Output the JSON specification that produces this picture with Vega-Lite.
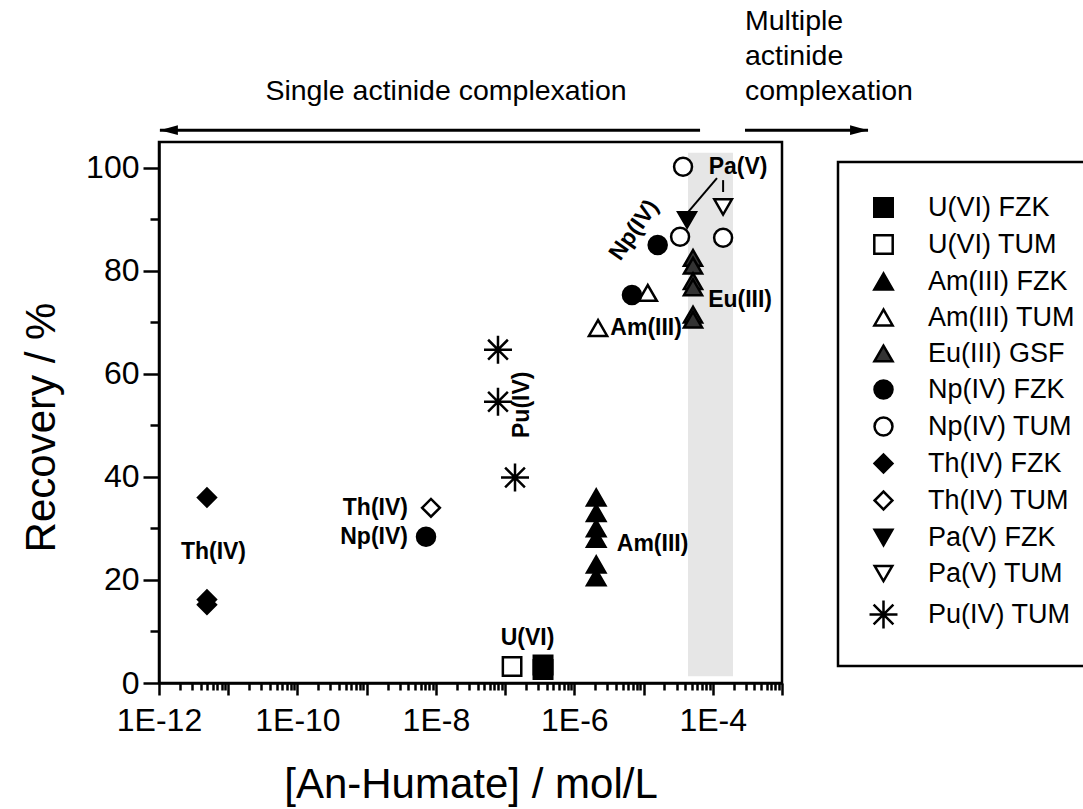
{
  "$schema": "https://vega.github.io/schema/vega-lite/v6.json",
  "width": 623,
  "height": 541,
  "autosize": {"type": "none"},
  "padding": {"left": 159, "top": 142, "right": 301, "bottom": 126},
  "background": "white",
  "config": {
    "font": "Liberation Sans",
    "view": {"stroke": "black", "strokeWidth": 2.5},
    "axis": {
      "domainColor": "black", "domainWidth": 2.5,
      "tickColor": "black", "tickWidth": 2.5,
      "labelColor": "black", "labelFont": "Liberation Sans", "labelFontSize": 32,
      "titleFont": "Liberation Sans", "titleFontSize": 42, "titleFontWeight": "normal", "titleColor": "black",
      "grid": false
    },
    "legend": {
      "padding": 32, "strokeColor": "black", "strokeWidth": 2.5,
      "labelFont": "Liberation Sans", "labelFontSize": 27, "labelColor": "black",
      "rowPadding": 8, "labelOffset": 31, "symbolStrokeWidth": 2.5, "symbolOpacity": 1
    }
  },
  "datasets": {
    "points": [
      {"series": "U(VI) FZK", "x": 3.53e-7, "y": 3.5},
      {"series": "U(VI) FZK", "x": 3.53e-7, "y": 2.6},
      {"series": "U(VI) TUM", "x": 1.26e-7, "y": 3.2},
      {"series": "Am(III) FZK", "x": 2.07e-6, "y": 36},
      {"series": "Am(III) FZK", "x": 2.07e-6, "y": 33},
      {"series": "Am(III) FZK", "x": 2.07e-6, "y": 30},
      {"series": "Am(III) FZK", "x": 2.07e-6, "y": 28},
      {"series": "Am(III) FZK", "x": 2.07e-6, "y": 23},
      {"series": "Am(III) FZK", "x": 2.07e-6, "y": 20.5},
      {"series": "Am(III) TUM", "x": 2.2e-6, "y": 68.9},
      {"series": "Am(III) TUM", "x": 1.15e-5, "y": 75.7},
      {"series": "Eu(III) GSF", "x": 5.18e-5, "y": 82.5},
      {"series": "Eu(III) GSF", "x": 5.18e-5, "y": 81},
      {"series": "Eu(III) GSF", "x": 5.18e-5, "y": 78},
      {"series": "Eu(III) GSF", "x": 5.18e-5, "y": 76.8},
      {"series": "Eu(III) GSF", "x": 5.18e-5, "y": 71.5},
      {"series": "Eu(III) GSF", "x": 5.18e-5, "y": 70.5},
      {"series": "Np(IV) FZK", "x": 1.6e-5, "y": 85.0},
      {"series": "Np(IV) FZK", "x": 6.8e-6, "y": 75.3},
      {"series": "Np(IV) FZK", "x": 7.2e-9, "y": 28.4},
      {"series": "Np(IV) TUM", "x": 3.72e-5, "y": 100.2},
      {"series": "Np(IV) TUM", "x": 3.37e-5, "y": 86.6},
      {"series": "Np(IV) TUM", "x": 1.41e-4, "y": 86.4},
      {"series": "Th(IV) FZK", "x": 4.93e-12, "y": 36.0},
      {"series": "Th(IV) FZK", "x": 4.93e-12, "y": 16.2},
      {"series": "Th(IV) FZK", "x": 4.93e-12, "y": 15.2},
      {"series": "Th(IV) TUM", "x": 8.49e-9, "y": 34.0},
      {"series": "Pa(V) FZK", "x": 4.25e-5, "y": 89.9},
      {"series": "Pa(V) TUM", "x": 1.41e-4, "y": 92.4},
      {"series": "Pu(IV) TUM", "x": 7.89e-8, "y": 64.7},
      {"series": "Pu(IV) TUM", "x": 7.89e-8, "y": 54.6},
      {"series": "Pu(IV) TUM", "x": 1.39e-7, "y": 39.9}
    ],
    "band": [{"x": 4.39e-5, "xe": 1.96e-4, "y": 1.3, "ye": 102.9}],
    "leaders": [
      {"x": 1.15e-4, "y": 98.0, "xe": 4.39e-5, "ye": 91.4},
      {"x": 1.41e-4, "y": 97.6, "xe": 1.41e-4, "ye": 95.3}
    ],
    "arrows": [
      {"dir": "left", "x": 1.03e-12, "xe": 6.55e-5, "y": 107.3},
      {"dir": "right", "x": 2.92e-4, "xe": 1.75e-2, "y": 107.3}
    ],
    "labelsCenter": [
      {"text": "Pa(V)", "x": 2.32e-4, "y": 100.2},
      {"text": "Eu(III)", "x": 2.48e-4, "y": 74.4},
      {"text": "Am(III)", "x": 1.09e-5, "y": 68.9},
      {"text": "Am(III)", "x": 1.35e-5, "y": 26.9},
      {"text": "U(VI)", "x": 2.11e-7, "y": 8.8},
      {"text": "Th(IV)", "x": 6.12e-12, "y": 25.5}
    ],
    "labelsRight": [
      {"text": "Th(IV)", "x": 3.95e-9, "y": 34.0},
      {"text": "Np(IV)", "x": 3.95e-9, "y": 28.4}
    ],
    "labelNp": [{"text": "Np(IV)", "x": 7.28e-6, "y": 87.9}],
    "labelPu": [{"text": "Pu(IV)", "x": 1.75e-7, "y": 54.0}],
    "single": [{"text": "Single actinide complexation", "x": 1.40e-8, "y": 114.9}],
    "multiple": [
      {"text": "Multiple", "x": 2.92e-4, "y": 128.5},
      {"text": "actinide", "x": 2.92e-4, "y": 121.7},
      {"text": "complexation", "x": 2.92e-4, "y": 114.9}
    ]
  },
  "layer": [
    {
      "data": {"name": "band"},
      "mark": {"type": "rect", "color": "#e6e6e6"},
      "encoding": {
        "x": {"field": "x", "type": "quantitative", "scale": {"type": "log", "domain": [1e-12, 1e-3], "nice": false}},
        "x2": {"field": "xe"},
        "y": {"field": "y", "type": "quantitative", "scale": {"domain": [0, 105], "nice": false, "zero": false}},
        "y2": {"field": "ye"}
      }
    },
    {
      "data": {"name": "leaders"},
      "mark": {"type": "rule", "color": "black", "strokeWidth": 2},
      "encoding": {
        "x": {"field": "x", "type": "quantitative"},
        "x2": {"field": "xe"},
        "y": {"field": "y", "type": "quantitative"},
        "y2": {"field": "ye"}
      }
    },
    {
      "data": {"name": "arrows"},
      "mark": {"type": "rule", "color": "black", "strokeWidth": 3},
      "encoding": {
        "x": {"field": "x", "type": "quantitative"},
        "x2": {"field": "xe"},
        "y": {"field": "y", "type": "quantitative"}
      }
    },
    {
      "data": {"name": "arrows"},
      "transform": [{"filter": "datum.dir == 'left'"}],
      "mark": {"type": "point", "shape": "M0,0L2,-0.55L2,0.55Z", "size": 324, "filled": true, "color": "black", "opacity": 1, "strokeWidth": 0},
      "encoding": {
        "x": {"field": "x", "type": "quantitative"},
        "y": {"field": "y", "type": "quantitative"}
      }
    },
    {
      "data": {"name": "arrows"},
      "transform": [{"filter": "datum.dir == 'right'"}],
      "mark": {"type": "point", "shape": "M0,0L-2,-0.55L-2,0.55Z", "size": 324, "filled": true, "color": "black", "opacity": 1, "strokeWidth": 0},
      "encoding": {
        "x": {"field": "xe", "type": "quantitative"},
        "y": {"field": "y", "type": "quantitative"}
      }
    },
    {
      "data": {"name": "points"},
      "mark": {"type": "point", "strokeWidth": 2.5, "opacity": 1},
      "encoding": {
        "x": {
          "field": "x", "type": "quantitative",
          "scale": {"type": "log", "domain": [1e-12, 1e-3], "nice": false},
          "axis": {
            "title": "[An-Humate] / mol/L",
            "values": [1e-12,2e-12,3e-12,4e-12,5e-12,6e-12,7e-12,8e-12,9e-12,
                       1e-11,2e-11,3e-11,4e-11,5e-11,6e-11,7e-11,8e-11,9e-11,
                       1e-10,2e-10,3e-10,4e-10,5e-10,6e-10,7e-10,8e-10,9e-10,
                       1e-9,2e-9,3e-9,4e-9,5e-9,6e-9,7e-9,8e-9,9e-9,
                       1e-8,2e-8,3e-8,4e-8,5e-8,6e-8,7e-8,8e-8,9e-8,
                       1e-7,2e-7,3e-7,4e-7,5e-7,6e-7,7e-7,8e-7,9e-7,
                       1e-6,2e-6,3e-6,4e-6,5e-6,6e-6,7e-6,8e-6,9e-6,
                       1e-5,2e-5,3e-5,4e-5,5e-5,6e-5,7e-5,8e-5,9e-5,
                       1e-4,2e-4,3e-4,4e-4,5e-4,6e-4,7e-4,8e-4,9e-4,1e-3],
            "labelExpr": "(abs(log(datum.value)/LN10 - round(log(datum.value)/LN10)) < 0.001 && round(log(datum.value)/LN10) % 2 == 0) ? '1E' + round(log(datum.value)/LN10) : ''",
            "labelOverlap": false,
            "labelFlush": false,
            "tickSize": {"condition": {"test": "abs(log(datum.value)/LN10 - round(log(datum.value)/LN10)) > 0.001", "value": 7}, "value": 12},
            "labelPadding": 10,
            "titleX": 311.5,
            "titleY": 101,
            "titleAlign": "center",
            "titleBaseline": "middle"
          }
        },
        "y": {
          "field": "y", "type": "quantitative",
          "scale": {"domain": [0, 105], "nice": false, "zero": false},
          "axis": {
            "title": "Recovery / %",
            "values": [0, 10, 20, 30, 40, 50, 60, 70, 80, 90, 100],
            "labelExpr": "datum.value % 20 == 0 ? datum.label : ''",
            "tickSize": {"condition": {"test": "datum.value % 20 != 0", "value": 9}, "value": 16},
            "labelPadding": 4,
            "titleX": -118,
            "titleY": 285,
            "titleAlign": "center",
            "titleBaseline": "middle"
          }
        },
        "shape": {
          "field": "series", "type": "nominal",
          "scale": {
            "domain": ["U(VI) FZK", "U(VI) TUM", "Am(III) FZK", "Am(III) TUM", "Eu(III) GSF", "Np(IV) FZK", "Np(IV) TUM", "Th(IV) FZK", "Th(IV) TUM", "Pa(V) FZK", "Pa(V) TUM", "Pu(IV) TUM"],
            "range": ["square", "square", "triangle-up", "triangle-up", "triangle-up", "circle", "circle", "diamond", "diamond", "triangle-down", "triangle-down", "M0,-1.6L0,1.6M-1.6,0L1.6,0M-1.13,-1.13L1.13,1.13M-1.13,1.13L1.13,-1.13"]
          },
          "legend": {"title": null, "orient": "none", "legendX": 679, "legendY": 20}
        },
        "fill": {
          "field": "series", "type": "nominal",
          "scale": {
            "domain": ["U(VI) FZK", "U(VI) TUM", "Am(III) FZK", "Am(III) TUM", "Eu(III) GSF", "Np(IV) FZK", "Np(IV) TUM", "Th(IV) FZK", "Th(IV) TUM", "Pa(V) FZK", "Pa(V) TUM", "Pu(IV) TUM"],
            "range": ["black", "white", "black", "white", "#333333", "black", "white", "black", "white", "black", "white", "transparent"]
          },
          "legend": {"title": null, "orient": "none", "legendX": 679, "legendY": 20}
        },
        "stroke": {
          "field": "series", "type": "nominal",
          "scale": {
            "domain": ["U(VI) FZK", "U(VI) TUM", "Am(III) FZK", "Am(III) TUM", "Eu(III) GSF", "Np(IV) FZK", "Np(IV) TUM", "Th(IV) FZK", "Th(IV) TUM", "Pa(V) FZK", "Pa(V) TUM", "Pu(IV) TUM"],
            "range": ["black", "black", "black", "black", "black", "black", "black", "black", "black", "black", "black", "black"]
          },
          "legend": {"title": null, "orient": "none", "legendX": 679, "legendY": 20}
        },
        "size": {
          "field": "series", "type": "nominal",
          "scale": {
            "domain": ["U(VI) FZK", "U(VI) TUM", "Am(III) FZK", "Am(III) TUM", "Eu(III) GSF", "Np(IV) FZK", "Np(IV) TUM", "Th(IV) FZK", "Th(IV) TUM", "Pa(V) FZK", "Pa(V) TUM", "Pu(IV) TUM"],
            "range": [342, 306, 676, 576, 676, 552, 342, 600, 500, 576, 420, 400]
          },
          "legend": {"title": null, "orient": "none", "legendX": 679, "legendY": 20}
        }
      }
    },
    {
      "data": {"name": "labelsCenter"},
      "mark": {"type": "text", "font": "Liberation Sans", "fontWeight": "bold", "fontSize": 23, "align": "center", "baseline": "middle", "color": "black"},
      "encoding": {
        "x": {"field": "x", "type": "quantitative"},
        "y": {"field": "y", "type": "quantitative"},
        "text": {"field": "text"}
      }
    },
    {
      "data": {"name": "labelsRight"},
      "mark": {"type": "text", "font": "Liberation Sans", "fontWeight": "bold", "fontSize": 23, "align": "right", "baseline": "middle", "color": "black"},
      "encoding": {
        "x": {"field": "x", "type": "quantitative"},
        "y": {"field": "y", "type": "quantitative"},
        "text": {"field": "text"}
      }
    },
    {
      "data": {"name": "labelNp"},
      "mark": {"type": "text", "font": "Liberation Sans", "fontWeight": "bold", "fontSize": 23, "align": "center", "baseline": "middle", "angle": 305, "color": "black"},
      "encoding": {
        "x": {"field": "x", "type": "quantitative"},
        "y": {"field": "y", "type": "quantitative"},
        "text": {"field": "text"}
      }
    },
    {
      "data": {"name": "labelPu"},
      "mark": {"type": "text", "font": "Liberation Sans", "fontWeight": "bold", "fontSize": 23, "align": "center", "baseline": "middle", "angle": 270, "color": "black"},
      "encoding": {
        "x": {"field": "x", "type": "quantitative"},
        "y": {"field": "y", "type": "quantitative"},
        "text": {"field": "text"}
      }
    },
    {
      "data": {"name": "single"},
      "mark": {"type": "text", "font": "Liberation Sans", "fontSize": 28.5, "align": "center", "baseline": "middle", "color": "black"},
      "encoding": {
        "x": {"field": "x", "type": "quantitative"},
        "y": {"field": "y", "type": "quantitative"},
        "text": {"field": "text"}
      }
    },
    {
      "data": {"name": "multiple"},
      "mark": {"type": "text", "font": "Liberation Sans", "fontSize": 28.5, "align": "left", "baseline": "middle", "color": "black"},
      "encoding": {
        "x": {"field": "x", "type": "quantitative"},
        "y": {"field": "y", "type": "quantitative"},
        "text": {"field": "text"}
      }
    }
  ]
}
